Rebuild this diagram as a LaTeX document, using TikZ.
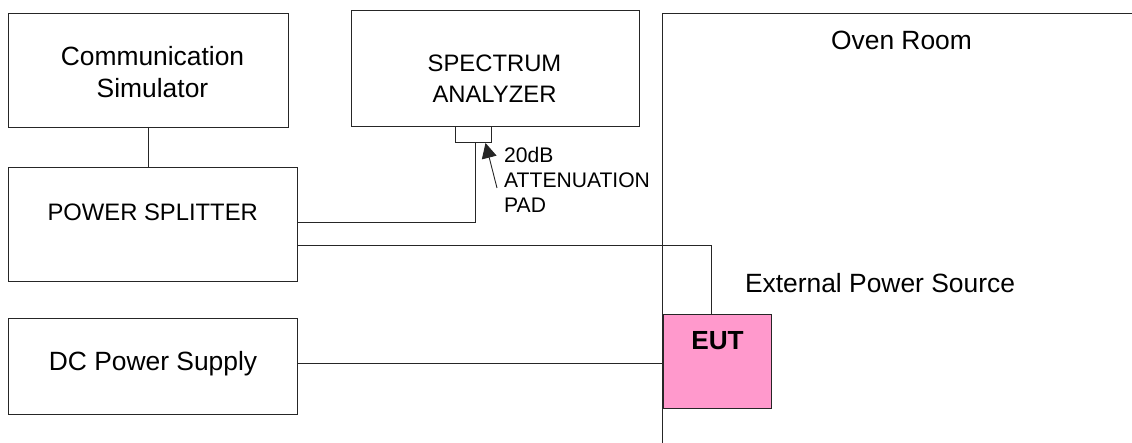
\documentclass[tikz,border=0pt]{standalone}
\usepackage{fontspec}
\setmainfont{Liberation Sans}
\usetikzlibrary{arrows.meta}
\definecolor{eutpink}{HTML}{FF99CC}
\tikzset{x=1pt,y=-1pt,
 box/.style={draw=black!85,line width=0.9pt,fill=white,inner sep=0pt},
 eutbox/.style={box,fill=eutpink},
 lbl/.style={inner sep=0pt,align=center,anchor=center,text=black,font=\fontsize{26.4}{32}\selectfont},
 lblsm/.style={lbl,font=\fontsize{23.8}{31.3}\selectfont},
 lbll/.style={inner sep=0pt,align=left,anchor=west,text=black,font=\fontsize{21.1}{25}\selectfont},
 wire/.style={draw=black!85,line width=0.9pt}}
\begin{document}
\begin{tikzpicture}
\useasboundingbox (0,0) rectangle (1132,443);
\coordinate (ovenbot) at (662,443);
\coordinate (oventop) at (662,13);
\coordinate (ovenend) at (1132,13);
\draw[wire] (ovenbot) -- (oventop) -- (ovenend);
\node[box,anchor=north west,minimum width=280pt,minimum height=114pt] (comm) at (8,13) {};
\node[box,anchor=north west,minimum width=289pt,minimum height=114pt] (split) at (8,167) {};
\node[box,anchor=north west,minimum width=289pt,minimum height=96pt] (dc) at (8,318) {};
\node[box,anchor=north west,minimum width=288pt,minimum height=116pt] (spec) at (351,10) {};
\node[box,anchor=north west,minimum width=36pt,minimum height=16pt] (pad) at (455,126) {};
\node[eutbox,anchor=north west,minimum width=108pt,minimum height=94pt] (eut) at (663,314) {};
\coordinate (a1) at (297,222);
\coordinate (a2) at (475,222);
\coordinate (a3) at (475,142);
\draw[wire] (a1) -- (a2) -- (a3);
\coordinate (b1) at (297,245);
\coordinate (b2) at (711,245);
\coordinate (b3) at (711,314);
\draw[wire] (b1) -- (b2) -- (b3);
\coordinate (c1) at (297,363);
\coordinate (c2) at (663,363);
\draw[wire] (c1) -- (c2);
\coordinate (d1) at (148.5,127);
\coordinate (d2) at (148.5,167);
\draw[wire] (d1) -- (d2);
\coordinate (t1) at (497,188);
\coordinate (t2) at (485.5,143);
\draw[wire,-{Triangle[length=15pt,width=15pt]}] (t1) -- (t2);
\node[lbl] (tcomm) at (152.5,72.5) {Communication\\Simulator};
\node[lblsm] (tspec) at (494.5,78.5) {SPECTRUM\\ANALYZER};
\node[lblsm] (tsplit) at (152.7,212) {POWER SPLITTER};
\node[lbl] (tdc) at (153,363.5) {DC Power Supply};
\node[lbl] (toven) at (901.5,40) {Oven Room};
\node[lbl] (text) at (880,283.5) {External Power Source};
\node[lbl,font=\fontsize{26.2}{30}\selectfont\bfseries] (teut) at (717.5,340.5) {EUT};
\node[lbll] (tpad) at (504,179.5) {20dB\\ATTENUATION\\PAD};
\end{tikzpicture}
\end{document}
